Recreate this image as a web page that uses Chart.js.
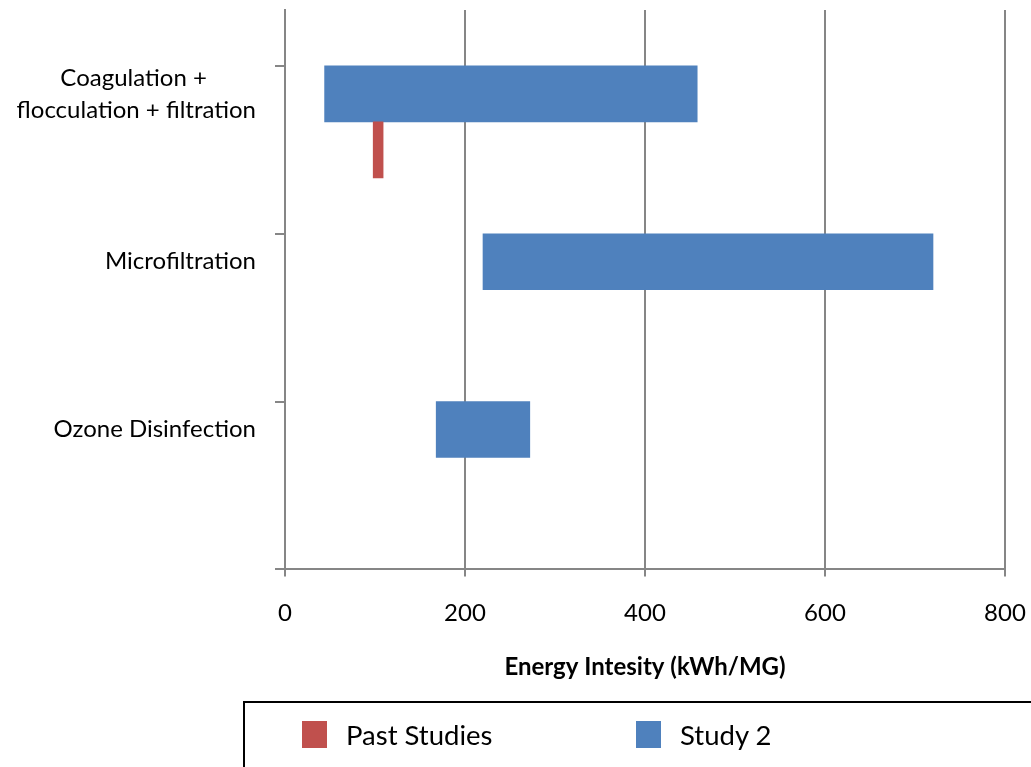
<!DOCTYPE html>
<html>
<head>
<meta charset="utf-8">
<title>Energy Intesity</title>
<script src="https://cdn.jsdelivr.net/npm/chart.js@4.4.1/dist/chart.umd.min.js"></script>
<style>
    body { margin: 0; background: #fff; }
    .wrap { position: relative; width: 1031px; height: 767px; overflow: hidden; }
    .legend {
        position: absolute; left: 243px; top: 701px; width: 830px; height: 90px;
        border: 2px solid #000; box-sizing: border-box;
        font: 27.5px Lato, sans-serif; color: #000;
    }
    .legend ul { list-style: none; margin: 0; padding: 18px 0 0 57px; display: flex; }
    .legend li { display: flex; align-items: center; width: 334px; height: 27px; }
    .legend .box { width: 25px; height: 27px; margin-right: 19px; flex: none; }
</style>
</head>
<body>
<div class="wrap">
    <canvas id="myChart" width="1031" height="767"></canvas>
    <div class="legend"><ul></ul></div>
</div>
<script>
const processes = [['Coagulation +', 'flocculation + filtration'], ['Microfiltration'], ['Ozone Disinfection']];
const study2Low = [44, 220, 168];
const study2High = [458, 720, 272];
const pastLow = [98, null, null];
const pastHigh = [109, null, null];
const xTicks = [0, 200, 400, 600, 800];
const seriesNames = ['Past Studies', 'Study 2'];
const seriesColors = ['#C0504D', '#4F81BD'];

const fontFamily = 'Lato, "Open Sans", sans-serif';
const gray = '#868686';

// excel centres wrapped lines, chart.js right-aligns them -> pad the short line
let measure = document.createElement('canvas').getContext('2d');
measure.font = '24px ' + fontFamily;
function centerLines(lines) {
    if (lines.length < 2) return lines[0];
    let widest = Math.max(...lines.map(l => measure.measureText(l).width));
    let sp = measure.measureText('\u00a0').width;
    return lines.map(l => l + '\u00a0'.repeat(Math.round((widest - measure.measureText(l).width) / 2 / sp)));
}

// each process gets 3 rows: Study 2, Past Studies, gap (plus one empty row on top)
let slotLabels = [''];
let study2Data = [null];
let pastData = [null];
processes.forEach((p, i) => {
    slotLabels.push(centerLines(p), '', '');
    study2Data.push([study2Low[i], study2High[i]], null, null);
    pastData.push(null, pastLow[i] === null ? null : [pastLow[i], pastHigh[i]], null);
});

const htmlLegend = {
    id: 'htmlLegend',
    afterUpdate(chart) {
        let ul = document.querySelector('.legend ul');
        ul.innerHTML = '';
        chart.data.datasets.forEach(ds => {
            let li = document.createElement('li');
            let box = document.createElement('span');
            box.className = 'box';
            box.style.background = ds.backgroundColor;
            let text = document.createElement('span');
            text.textContent = ds.label;
            li.appendChild(box);
            li.appendChild(text);
            ul.appendChild(li);
        });
    }
};

Chart.defaults.font.family = fontFamily;
Chart.defaults.color = '#000';

new Chart(document.getElementById('myChart'), {
    type: 'bar',
    data: {
        labels: slotLabels,
        datasets: [{
            label: seriesNames[0],
            data: pastData,
            backgroundColor: seriesColors[0]
        }, {
            label: seriesNames[1],
            data: study2Data,
            backgroundColor: seriesColors[1]
        }]
    },
    options: {
        indexAxis: 'y',
        responsive: false,
        animation: false,
        grouped: false,
        barPercentage: 1,
        categoryPercentage: 1,
        layout: { padding: { top: 10, right: 26, bottom: 85, left: 0 } },
        plugins: {
            legend: { display: false },
            tooltip: { enabled: false }
        },
        scales: {
            x: {
                min: 0,
                max: 800,
                afterBuildTicks: s => { s.ticks = xTicks.map(v => ({ value: v })); },
                afterFit: s => { s.paddingLeft = 0; s.paddingRight = 0; },
                grid: { color: gray, lineWidth: 2, tickLength: 7 },
                border: { color: gray, width: 2 },
                ticks: { font: { size: 24, lineHeight: 1.2 }, padding: 22 },
                title: {
                    display: true,
                    text: 'Energy Intesity (kWh/MG)',
                    font: { size: 24, weight: 'bold', lineHeight: 1.2 },
                    padding: { top: 4, bottom: 0 }
                }
            },
            y: {
                afterFit: s => { s.width = 285; s.paddingTop = 0; s.paddingBottom = 0; },
                grid: {
                    drawOnChartArea: false,
                    tickLength: 10,
                    lineWidth: 2,
                    color: c => (c.index === undefined || c.index % 3 === 1) ? gray : 'rgba(0,0,0,0)'
                },
                border: { color: gray, width: 2 },
                ticks: {
                    autoSkip: false,
                    padding: 19,
                    font: { size: 24, lineHeight: 1.33 }
                }
            }
        }
    },
    plugins: [htmlLegend]
});
</script>
</body>
</html>
